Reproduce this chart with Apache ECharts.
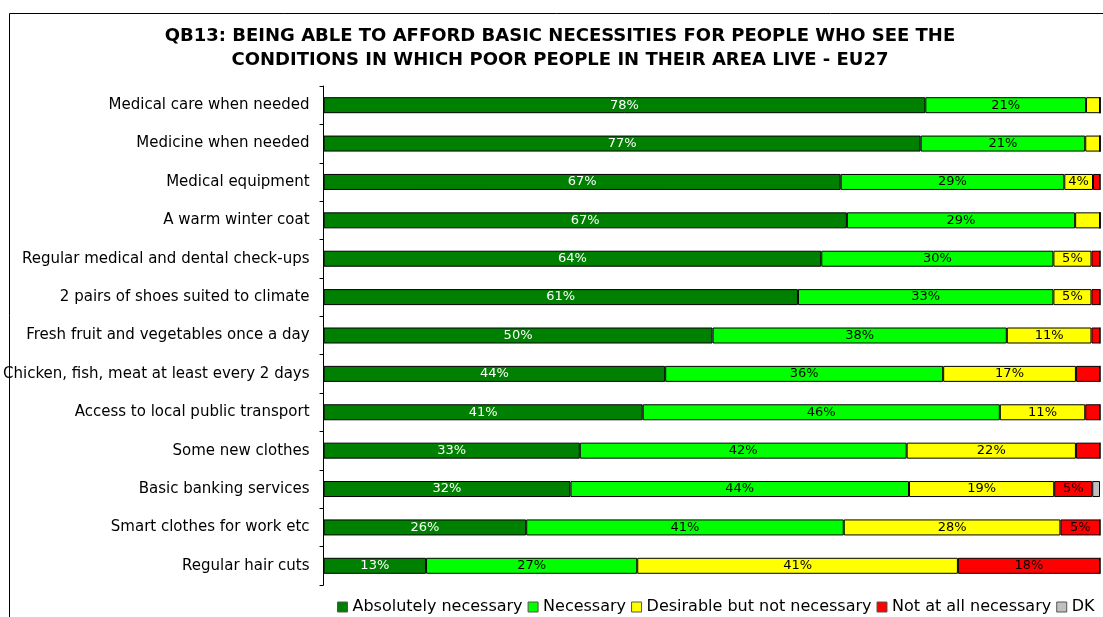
<!DOCTYPE html>
<html><head><meta charset="utf-8">
<script src="https://cdn.jsdelivr.net/npm/echarts@6/dist/echarts.min.js"></script>
<style>html,body{margin:0;padding:0;background:#fff}#c{width:1103px;height:617px}</style>
</head><body><div id="c"></div>
<script>
var categories = ["Medical care when needed","Medicine when needed","Medical equipment","A warm winter coat","Regular medical and dental check-ups","2 pairs of shoes suited to climate","Fresh fruit and vegetables once a day","Chicken, fish, meat at least every 2 days","Access to local public transport","Some new clothes","Basic banking services","Smart clothes for work etc","Regular hair cuts"];
var absolutelyNecessary = [77.5,76.9,66.6,67.4,64.1,61.1,50.1,44.0,41.1,33.0,31.8,26.1,13.2];
var necessary = [20.7,21.2,28.8,29.4,29.9,32.9,37.9,35.8,46.0,42.1,43.6,40.9,27.2];
var desirable = [1.8,1.9,3.7,3.2,4.9,4.9,10.9,17.1,11.0,21.8,18.7,27.9,41.3];
var notAtAll = [0,0,0.9,0,1.1,1.1,1.1,3.1,1.9,3.1,4.9,5.1,18.3];
var dk = [0,0,0,0,0,0,0,0,0,0,1.0,0,0];
var seriesNames = ["Absolutely necessary","Necessary","Desirable but not necessary","Not at all necessary","DK"];
var title = "QB13: BEING ABLE TO AFFORD BASIC NECESSITIES FOR PEOPLE WHO SEE THE\nCONDITIONS IN WHICH POOR PEOPLE IN THEIR AREA LIVE - EU27";

var colors = ["#008000","#00ff00","#ffff00","#ff0000","#c0c0c0"];
var labelColors = ["#ffffff","#000000","#000000","#000000","#000000"];
var dataSets = [absolutelyNecessary, necessary, desirable, notAtAll, dk];
var FONT = 'DejaVu Sans';

var chart = echarts.init(document.getElementById('c'));
var series = dataSets.map(function(d,i){
  return {
    name: seriesNames[i], type:'bar', stack:'all', barWidth:16,
    data: d,
    itemStyle:{color:colors[i], borderColor:'#000', borderWidth:1},
    label:{show:true, position:'inside', color:labelColors[i], fontFamily:FONT, fontSize:13,
      formatter:function(p){ return p.value >= 3.5 ? Math.round(p.value)+'%' : ''; }},
    emphasis:{disabled:true}
  };
});
chart.setOption({
  animation:false,
  title:{text:title, left:555, textAlign:'center', top:19,
    textStyle:{fontFamily:FONT, fontWeight:'bold', fontSize:18, color:'#000', lineHeight:24}},
  legend:{left:337, top:599, width:780, padding:0, itemWidth:10, itemHeight:10, itemGap:5,
    icon:'rect',
    textStyle:{fontFamily:FONT, fontSize:16, color:'#000', padding:[0,0,0,0]},
    data: seriesNames.map(function(n,i){return {name:n, itemStyle:{color:colors[i], borderColor:'#555', borderWidth:1}};})},
  grid:{left:321, right:3, top:86, bottom:32, containLabel:false},
  xAxis:{type:'value', min:0, max:100, show:false},
  yAxis:{type:'category', data:categories, inverse:true,
    axisLine:{show:true, lineStyle:{color:'#000', width:1}},
    axisTick:{show:true, length:4, lineStyle:{color:'#000'}},
    axisLabel:{fontFamily:FONT, fontSize:15, color:'#000', margin:14}},
  graphic:[{type:'rect', x:9.5, y:13.5, shape:{x:0, y:0, width:1200, height:700}, style:{fill:'none', stroke:'#000', lineWidth:1}, silent:true, z:-1}],
  series: series
});
</script></body></html>
